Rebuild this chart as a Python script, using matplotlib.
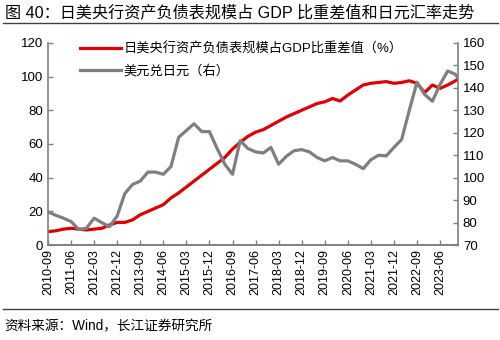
import matplotlib
matplotlib.use("Agg")
import matplotlib.pyplot as plt
import pandas as pd

plt.rcParams['font.family'] = ['Liberation Sans', 'Noto Sans CJK SC', 'DejaVu Sans']

# quarterly points, last one is 2024-01
dates = list(pd.period_range('2010-09', '2023-12', freq='3M').strftime('%Y-%m')) + ['2024-01']

bs_gap = [8, 8.5, 9.5, 10, 9.5, 9, 9.5, 10, 12, 13.5,
          13.5, 15, 18, 20, 22, 24, 28, 31, 34.5, 38,
          41.5, 45, 48.5, 52, 57, 61, 64.5, 67, 68.5, 71,
          73.5, 76, 78, 80, 82, 84, 85, 87, 85.5, 89,
          92, 95, 96, 96.5, 97, 96, 96.5, 97.5, 96, 90.5,
          95, 93, 95, 97.5, 98.4]

usdjpy = [84.8, 83.3, 82, 80.5, 77, 77.5, 82, 80, 78.2, 83,
          93, 97, 98.5, 102.5, 102.5, 101.5, 105, 118, 121, 124,
          120.5, 120.5, 113, 106, 101.5, 116.5, 113, 111.5, 111, 113.5,
          106, 109.5, 112, 112.5, 111.5, 109, 107.5, 109, 107.5, 107.5,
          106, 104, 108, 110, 109.7, 113.5, 117, 130, 142.5, 137,
          134, 141.5, 147.5, 146, 144.3]

tick_labels = ['2010-09', '2011-06', '2012-03', '2012-12', '2013-09', '2014-06',
               '2015-03', '2015-12', '2016-09', '2017-06', '2018-03', '2018-12',
               '2019-09', '2020-06', '2021-03', '2021-12', '2022-09', '2023-06']


def month_idx(s):
    y, m = s.split('-')
    return (int(y) - 2010) * 12 + int(m) - 9


x = [month_idx(d) for d in dates]
xt = [month_idx(d) for d in tick_labels]

fig = plt.figure(figsize=(5, 3.4), dpi=100)
ax = fig.add_axes([0.096, 0.279, 0.82, 0.595])
ax2 = ax.twinx()

l1, = ax.plot(x, bs_gap, color='#E00000', lw=2.3)
l2, = ax2.plot(x, usdjpy, color='#7F7F7F', lw=2.3)

ax.set_xlim(0, x[-1])
ax.set_ylim(0, 120)
ax.set_yticks(range(0, 121, 20))
ax2.set_ylim(70, 160)
ax2.set_yticks(range(70, 161, 10))
ax.set_xticks(xt)
ax.set_xticklabels(tick_labels, rotation=90)

for a in (ax, ax2):
    a.spines['top'].set_visible(False)
    for s in ('left', 'right', 'bottom'):
        a.spines[s].set_color('#808080')
        a.spines[s].set_linewidth(1.2)
    a.tick_params(direction='in', length=3.5, width=1, color='#808080',
                  labelsize=9.5, colors='black')
ax.spines['right'].set_visible(False)
ax2.spines['left'].set_visible(False)
ax.tick_params(axis='x', labelsize=9, pad=3)

ax2.legend([l1, l2], ['日美央行资产负债表规模占GDP比重差值（%）', '美元兑日元（右）'],
           loc='upper left', bbox_to_anchor=(0.05, 1.06), frameon=False,
           fontsize=9.5, handlelength=3.1, handletextpad=0.2, labelspacing=0.7)

fig.text(0.01, 0.962, '图 40：日美央行资产负债表规模占 GDP 比重差值和日元汇率走势',
         fontsize=11.6, va='center', ha='left')
fig.add_artist(plt.Line2D([0.005, 0.995], [0.933, 0.933], color='#404040', lw=1))
fig.add_artist(plt.Line2D([0.005, 0.995], [0.092, 0.092], color='#404040', lw=1))
fig.text(0.008, 0.04, '资料来源：Wind，长江证券研究所', fontsize=9.8, va='center', ha='left')

fig.savefig('out.png', dpi=100)
